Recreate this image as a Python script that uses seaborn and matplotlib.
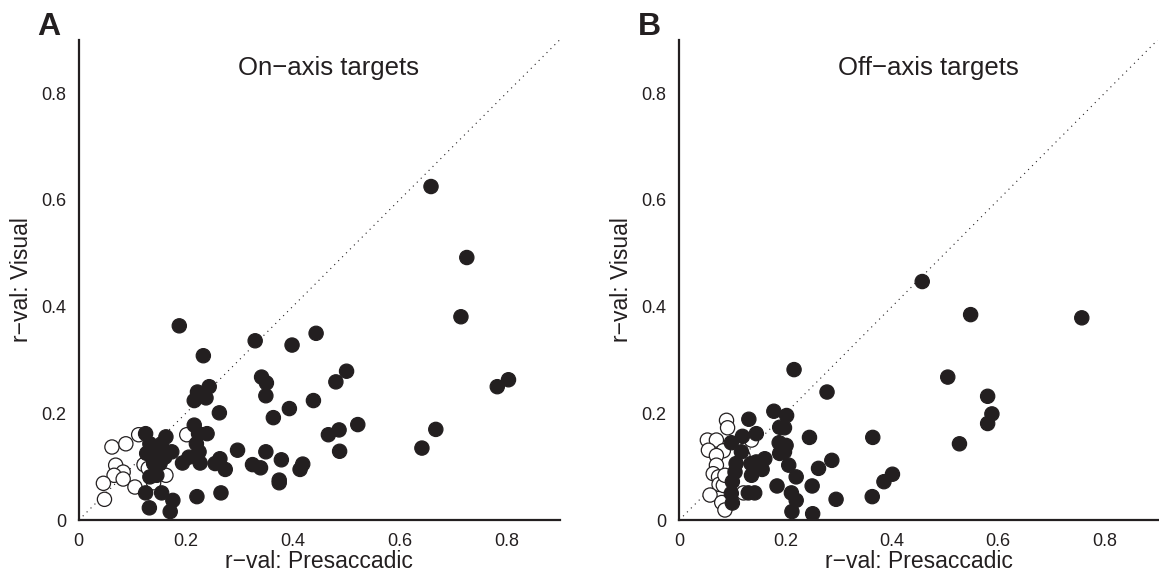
import numpy as np
import pandas as pd
import matplotlib
matplotlib.use('Agg')
import matplotlib.pyplot as plt
import seaborn as sns

# On-axis targets (panel A)
on_filled_x = [0.188, 0.233, 0.330, 0.399, 0.244, 0.222, 0.216, 0.238, 0.342, 0.351,
               0.350, 0.263, 0.364, 0.394, 0.216, 0.224, 0.240, 0.220, 0.225, 0.206,
               0.194, 0.227, 0.264, 0.255, 0.274, 0.297, 0.350, 0.325, 0.340, 0.379,
               0.375, 0.375, 0.221, 0.266, 0.132, 0.171, 0.176, 0.155, 0.125, 0.125,
               0.133, 0.163, 0.155, 0.174, 0.127, 0.146, 0.161, 0.140, 0.152, 0.146,
               0.133, 0.414, 0.659, 0.726, 0.715, 0.444, 0.501, 0.481, 0.439, 0.522,
               0.487, 0.467, 0.488, 0.668, 0.642, 0.783, 0.804, 0.419]
on_filled_y = [0.364, 0.308, 0.336, 0.328, 0.250, 0.240, 0.224, 0.229, 0.268, 0.257,
               0.233, 0.201, 0.192, 0.209, 0.178, 0.162, 0.162, 0.143, 0.128, 0.118,
               0.107, 0.107, 0.115, 0.106, 0.095, 0.131, 0.128, 0.104, 0.098, 0.113,
               0.075, 0.070, 0.044, 0.051, 0.023, 0.016, 0.037, 0.051, 0.051, 0.162,
               0.143, 0.156, 0.143, 0.128, 0.125, 0.125, 0.118, 0.106, 0.106, 0.084,
               0.081, 0.095, 0.625, 0.492, 0.381, 0.350, 0.279, 0.259, 0.224, 0.179,
               0.169, 0.160, 0.129, 0.170, 0.135, 0.250, 0.263, 0.105]
on_open_x = [0.112, 0.062, 0.088, 0.069, 0.083, 0.066, 0.083, 0.046, 0.105, 0.048,
             0.202, 0.122, 0.130, 0.163, 0.140]
on_open_y = [0.160, 0.137, 0.143, 0.103, 0.090, 0.084, 0.077, 0.069, 0.062, 0.039,
             0.160, 0.104, 0.097, 0.084, 0.070]

# Off-axis targets (panel B)
off_filled_x = [0.216, 0.278, 0.178, 0.202, 0.131, 0.189, 0.198, 0.145, 0.119, 0.098,
                0.245, 0.364, 0.188, 0.201, 0.117, 0.189, 0.198, 0.161, 0.145, 0.135,
                0.107, 0.206, 0.287, 0.262, 0.156, 0.105, 0.136, 0.220, 0.100, 0.184,
                0.250, 0.211, 0.142, 0.130, 0.220, 0.295, 0.363, 0.385, 0.401, 0.212,
                0.251, 0.098, 0.100, 0.457, 0.548, 0.757, 0.505, 0.580, 0.588, 0.580,
                0.527]
off_filled_y = [0.282, 0.240, 0.204, 0.196, 0.189, 0.174, 0.173, 0.162, 0.157, 0.145,
                0.155, 0.155, 0.145, 0.140, 0.128, 0.125, 0.128, 0.115, 0.109, 0.106,
                0.106, 0.103, 0.112, 0.097, 0.095, 0.090, 0.084, 0.081, 0.072, 0.064,
                0.064, 0.051, 0.051, 0.051, 0.037, 0.039, 0.044, 0.072, 0.086, 0.016,
                0.012, 0.050, 0.032, 0.447, 0.385, 0.379, 0.268, 0.232, 0.199, 0.181,
                0.143]
off_open_x = [0.089, 0.091, 0.053, 0.070, 0.055, 0.083, 0.070, 0.070, 0.064, 0.074,
              0.075, 0.083, 0.086, 0.058, 0.080, 0.086, 0.121, 0.136, 0.120]
off_open_y = [0.187, 0.173, 0.150, 0.150, 0.131, 0.130, 0.121, 0.103, 0.087, 0.081,
              0.067, 0.065, 0.084, 0.047, 0.033, 0.019, 0.051, 0.150, 0.120]

panels = ['On\u2212axis targets', 'Off\u2212axis targets']
letters = ['A', 'B']
ticks = [0, 0.2, 0.4, 0.6, 0.8]
tick_labels = ['0', '0.2', '0.4', '0.6', '0.8']

rows = []
for p, fx, fy, ox, oy in [(panels[0], on_filled_x, on_filled_y, on_open_x, on_open_y),
                          (panels[1], off_filled_x, off_filled_y, off_open_x, off_open_y)]:
    # open circles first so the filled ones sit on top
    for x, y in zip(ox, oy):
        rows.append((p, 'open', x, y))
    for x, y in zip(fx, fy):
        rows.append((p, 'filled', x, y))
df = pd.DataFrame(rows, columns=['panel', 'kind', 'pres', 'vis'])

sns.set_style('white')
plt.rcParams['font.family'] = ['Liberation Sans', 'DejaVu Sans']

dark = '#231f20'
fig = plt.figure(figsize=(11.59, 5.76), dpi=100)
ax1 = fig.add_axes([0.068, 0.097, 0.415, 0.834])
ax2 = fig.add_axes([0.586, 0.097, 0.413, 0.834])

for ax, p, letter in zip([ax1, ax2], panels, letters):
    ax.plot([0, 0.9], [0, 0.9], linestyle=(0, (1, 4)), color=dark, lw=0.8, zorder=1)
    sub = df[df['panel'] == p]
    sns.scatterplot(data=sub, x='pres', y='vis', hue='kind', hue_order=['filled', 'open'],
                    palette={'filled': dark, 'open': 'white'}, edgecolor=dark,
                    linewidth=0.9, s=105, legend=False, ax=ax, zorder=3)
    ax.set_xlim(0, 0.9)
    ax.set_ylim(0, 0.9)
    ax.set_xticks(ticks)
    ax.set_xticklabels(tick_labels)
    ax.set_yticks(ticks)
    ax.set_yticklabels(tick_labels)
    ax.tick_params(direction='out', length=5, width=1.3, labelsize=13, color=dark,
                   labelcolor=dark, pad=4)
    for s in ['left', 'bottom']:
        ax.spines[s].set_linewidth(1.6)
        ax.spines[s].set_color(dark)
    sns.despine(ax=ax)
    ax.set_xlabel('r\u2212val: Presaccadic', fontsize=16.5, color=dark, labelpad=0)
    ax.set_ylabel('r\u2212val: Visual', fontsize=16.5, color=dark, labelpad=6)
    ax.text(0.52, 0.927, p, transform=ax.transAxes, ha='center', va='baseline',
            fontsize=18.5, color=dark)
    ax.text(-0.087, 1.010, letter, transform=ax.transAxes, ha='left', va='baseline',
            fontsize=23, fontweight='bold', color=dark)

fig.savefig('out.png', dpi=100)
